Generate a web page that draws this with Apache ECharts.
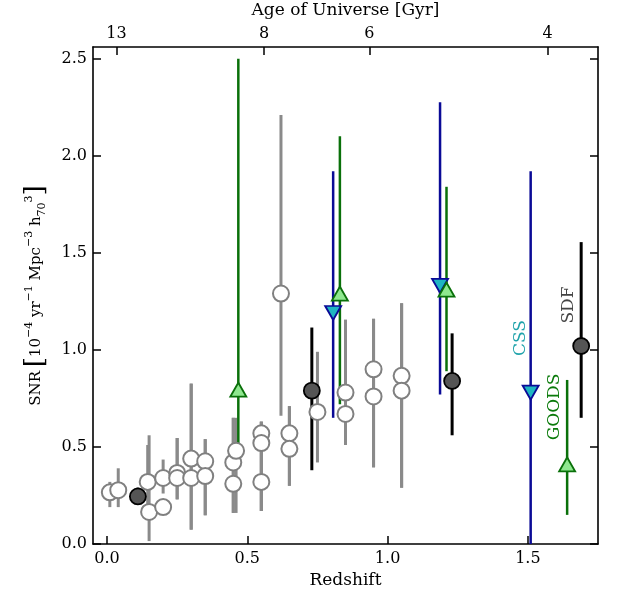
<!DOCTYPE html>
<html>
<head>
<meta charset="utf-8">
<script src="https://cdn.jsdelivr.net/npm/echarts@6/dist/echarts.min.js"></script>
<style>html,body{margin:0;padding:0;background:#fff}#c{width:618px;height:592px}</style>
</head>
<body>
<div id="c"></div>
<script>
// ---- data ----
const grayZ  = [0.01, 0.04, 0.145, 0.15, 0.20, 0.20, 0.25, 0.25, 0.30, 0.30, 0.35, 0.35, 0.45, 0.46, 0.45, 0.55, 0.55, 0.55, 0.62, 0.65, 0.65, 0.75, 0.85, 0.85, 0.95, 0.95, 1.05, 1.05];
const grayV  = [0.266, 0.277, 0.32, 0.165, 0.34, 0.19, 0.366, 0.34, 0.44, 0.34, 0.426, 0.35, 0.42, 0.48, 0.31, 0.57, 0.52, 0.32, 1.29, 0.57, 0.49, 0.68, 0.78, 0.67, 0.90, 0.76, 0.866, 0.79];
const grayLo = [0.19, 0.19, 0.20, 0.015, 0.26, 0.17, 0.23, 0.23, 0.074, 0.074, 0.148, 0.148, 0.16, 0.16, 0.16, 0.17, 0.17, 0.17, 0.66, 0.30, 0.30, 0.42, 0.51, 0.51, 0.395, 0.395, 0.29, 0.29];
const grayHi = [0.32, 0.39, 0.51, 0.56, 0.435, 0.21, 0.546, 0.546, 0.826, 0.826, 0.54, 0.54, 0.65, 0.65, 0.65, 0.63, 0.63, 0.63, 2.21, 0.71, 0.71, 0.99, 1.155, 1.155, 1.16, 1.16, 1.24, 1.24];

const sdfZ  = [0.11, 0.73, 1.23, 1.69];
const sdfV  = [0.245, 0.79, 0.84, 1.02];
const sdfLo = [0.21, 0.38, 0.56, 0.65];
const sdfHi = [0.29, 1.115, 1.085, 1.555];

const goodsZ  = [0.468, 0.83, 1.21, 1.64];
const goodsV  = [0.795, 1.29, 1.31, 0.41];
const goodsLo = [0.52, 0.72, 0.89, 0.15];
const goodsHi = [2.50, 2.10, 1.84, 0.845];

const cssZ  = [0.806, 1.187, 1.51];
const cssV  = [1.19, 1.33, 0.78];
const cssLo = [0.65, 0.77, -0.1];
const cssHi = [1.92, 2.275, 1.92];

const xTicks = [0, 0.5, 1.0, 1.5];
const yTicks = [0, 0.5, 1.0, 1.5, 2.0, 2.5];
const ageTickZ = [0.0335, 0.56, 0.935, 1.57];
const ageLabels = ['13', '8', '6', '4'];

// ---- chart ----
const FONT = 'DejaVu Serif';
const chart = echarts.init(document.getElementById('c'), null, {renderer: 'canvas'});

function pts(z, v) { return z.map((x, i) => [x, v[i]]); }
function errs(z, lo, hi) { return z.map((x, i) => [x, lo[i], hi[i]]); }
function errSeries(data, color, width) {
  return {
    type: 'custom', xAxisIndex: 0, yAxisIndex: 0, clip: true, silent: true,
    data: data,
    encode: {x: 0, y: [1, 2]},
    renderItem: function (params, api) {
      const a = api.coord([api.value(0), api.value(1)]);
      const b = api.coord([api.value(0), api.value(2)]);
      return {type: 'line', shape: {x1: a[0], y1: a[1], x2: b[0], y2: b[1]},
              style: {stroke: color, lineWidth: width}};
    }
  };
}

const option = {
  animation: false,
  backgroundColor: '#fff',
  textStyle: {fontFamily: FONT},
  grid: {left: 93, right: 20, top: 47, bottom: 48, containLabel: false, outerBoundsMode: 'none'},
  xAxis: [
    {
      type: 'value', position: 'bottom', min: -0.05, max: 1.75,
      name: 'Redshift', nameLocation: 'middle', nameGap: 27,
      nameTextStyle: {fontFamily: FONT, fontSize: 17, color: '#000'},
      axisLine: {show: true, onZero: false, lineStyle: {color: '#000', width: 1.6}},
      axisTick: {show: true, inside: true, length: 8, customValues: xTicks, lineStyle: {color: '#000', width: 1.5}},
      axisLabel: {show: true, customValues: xTicks, margin: 7, fontFamily: FONT, fontSize: 16, color: '#000',
                  formatter: v => v.toFixed(1)},
      splitLine: {show: false}
    },
    {
      type: 'value', position: 'top', min: -0.05, max: 1.75,
      name: 'Age of Universe [Gyr]', nameLocation: 'middle', nameGap: 28,
      nameTextStyle: {fontFamily: FONT, fontSize: 17, color: '#000'},
      axisLine: {show: true, onZero: false, lineStyle: {color: '#000', width: 1.6}},
      axisTick: {show: true, inside: true, length: 8, customValues: ageTickZ, lineStyle: {color: '#000', width: 1.5}},
      axisLabel: {show: true, customValues: ageTickZ, margin: 5, fontFamily: FONT, fontSize: 16, color: '#000',
                  formatter: v => { const i = ageTickZ.findIndex(t => Math.abs(t - v) < 1e-6); return i >= 0 ? ageLabels[i] : ''; }},
      splitLine: {show: false}
    }
  ],
  yAxis: [
    {
      type: 'value', position: 'left', min: 0, max: 2.56,
      name: '{t|SNR} {br|[}{t|10}{sp|−4}{t| yr}{sp|−1}{t| Mpc}{sp|−3}{t| h}{sb|70}{sp|3}{br|]}',
      nameLocation: 'middle', nameGap: 45, nameRotate: 90,
      nameTextStyle: {
        fontFamily: FONT, color: '#000',
        rich: {
          t: {fontFamily: FONT, fontSize: 15, color: '#000', lineHeight: 24, verticalAlign: 'middle'},
          sp: {fontFamily: FONT, fontSize: 11, color: '#000', lineHeight: 24, verticalAlign: 'top'},
          sb: {fontFamily: FONT, fontSize: 11, color: '#000', lineHeight: 24, verticalAlign: 'bottom'},
          br: {fontFamily: FONT, fontSize: 26, color: '#000', lineHeight: 24, verticalAlign: 'middle', fontWeight: 'lighter'}
        }
      },
      axisLine: {show: true, onZero: false, lineStyle: {color: '#000', width: 1.6}},
      axisTick: {show: true, inside: true, length: 8, customValues: yTicks, lineStyle: {color: '#000', width: 1.5}},
      axisLabel: {show: true, customValues: yTicks, margin: 6, fontFamily: FONT, fontSize: 16, color: '#000',
                  formatter: v => v.toFixed(1)},
      splitLine: {show: false}
    },
    {
      type: 'value', position: 'right', min: 0, max: 2.56,
      axisLine: {show: true, onZero: false, lineStyle: {color: '#000', width: 1.6}},
      axisTick: {show: true, inside: true, length: 8, customValues: yTicks, lineStyle: {color: '#000', width: 1.5}},
      axisLabel: {show: false},
      splitLine: {show: false}
    }
  ],
  series: [
    errSeries(errs(grayZ, grayLo, grayHi), '#8a8a8a', 3),
    {
      type: 'scatter', xAxisIndex: 0, yAxisIndex: 0, data: pts(grayZ, grayV),
      symbol: 'circle', symbolSize: 16,
      itemStyle: {color: '#ffffff', borderColor: '#808080', borderWidth: 2, opacity: 1}
    },
    errSeries(errs(sdfZ, sdfLo, sdfHi), '#000000', 3),
    {
      type: 'scatter', xAxisIndex: 0, yAxisIndex: 0, data: pts(sdfZ, sdfV),
      symbol: 'circle', symbolSize: 16,
      itemStyle: {color: '#555555', borderColor: '#000000', borderWidth: 1.8, opacity: 1}
    },
    errSeries(errs(cssZ, cssLo, cssHi), '#0a0a96', 2.5),
    {
      type: 'scatter', xAxisIndex: 0, yAxisIndex: 0, data: pts(cssZ, cssV),
      symbol: 'triangle', symbolSize: [16, 14], symbolRotate: 180,
      itemStyle: {color: '#1fb5c2', borderColor: '#0a0a96', borderWidth: 1.8, opacity: 1}
    },
    errSeries(errs(goodsZ, goodsLo, goodsHi), '#0a700a', 2.5),
    {
      type: 'scatter', xAxisIndex: 0, yAxisIndex: 0, data: pts(goodsZ, goodsV),
      symbol: 'triangle', symbolSize: [16, 14],
      itemStyle: {color: '#8fe88f', borderColor: '#0a700a', borderWidth: 1.8, opacity: 1}
    }
  ],
  graphic: [
    {type: 'text', x: 521, y: 338, rotation: Math.PI / 2,
     style: {text: 'CSS', fill: '#20a3ab', font: '17px "DejaVu Serif"', align: 'center', verticalAlign: 'middle'}},
    {type: 'text', x: 555, y: 407, rotation: Math.PI / 2,
     style: {text: 'GOODS', fill: '#0a7a0a', font: '17px "DejaVu Serif"', align: 'center', verticalAlign: 'middle'}},
    {type: 'text', x: 569, y: 305, rotation: Math.PI / 2,
     style: {text: 'SDF', fill: '#444444', font: '17px "DejaVu Serif"', align: 'center', verticalAlign: 'middle'}}
  ]
};
chart.setOption(option);
</script>
</body>
</html>
